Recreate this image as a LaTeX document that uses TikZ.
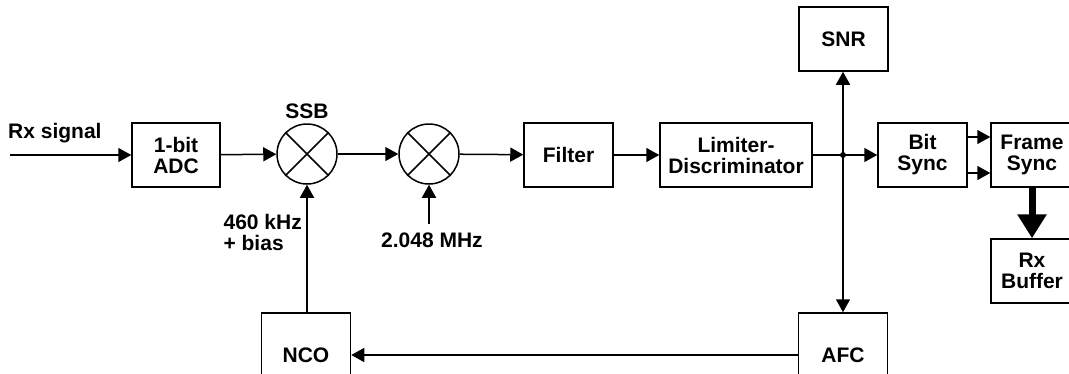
\documentclass[tikz,border=0pt]{standalone}
\usepackage{fontspec}
\setmainfont{Liberation Sans}
\usetikzlibrary{arrows.meta}
\tikzset{
  blk/.style={draw,line width=1.5pt,minimum width=89pt,minimum height=64pt,
    align=center,inner sep=0pt,font=\bfseries\fontsize{21}{21}\selectfont},
  mixer/.style={draw,circle,line width=1.5pt,minimum size=60pt,inner sep=0pt},
  lbl/.style={font=\bfseries\fontsize{21}{21}\selectfont,inner sep=0pt},
  sig/.style={line width=1.5pt,-{Triangle[length=13pt,width=14pt]}}
}
\begin{document}
\begin{tikzpicture}[x=1pt,y=-1pt]
    \clip (0,0) rectangle (1069,373);

    % blocs
    \node[blk,minimum width=88pt] (adc) at (176,155) {1-bit\\ADC};
    \node[mixer] (ssb) at (307,154) {};
    \node[mixer] (mix) at (429,154) {};
    \node[blk] (filt) at (568.5,155) {Filter};
    \node[blk,minimum width=152pt] (lim) at (736,155) {Limiter-\\Discriminator};
    \node[blk] (snr) at (843.5,39) {SNR};
    \node[blk] (bsync) at (922.5,155) {Bit\\Sync};
    \node[blk,minimum width=82pt] (fsync) at (1032,155) {Frame\\Sync};
    \node[blk,minimum width=82pt] (rxbuf) at (1032,271) {Rx\\Buffer};
    \node[blk,minimum height=84pt] (nco) at (306,355) {NCO};
    \node[blk,minimum height=84pt] (afc) at (843,355) {AFC};

    % creus dels mescladors
    \foreach \m in {ssb,mix} {
        \draw[line width=1.5pt] (\m.north west) -- (\m.south east);
        \draw[line width=1.5pt] (\m.south west) -- (\m.north east);
    }

    % etiquetes
    \coordinate (rxin) at (10,155);
    \node[lbl,anchor=south west] (rxlbl) at (8,143) {Rx signal};
    \node[lbl,anchor=south] (ssblbl) at (ssb.north) [yshift=4pt] {SSB};
    \node[lbl,align=left,anchor=east] (biaslbl) at (302,232) {460 kHz\\+ bias};
    \coordinate (lofreq) at (429,224);
    \node[lbl,anchor=north] (lolbl) at (432,233) {2.048 MHz};
    \coordinate (jn) at (843,155);

    % connexions
    \draw[sig] (rxin) -- (adc);
    \draw[sig] (adc) -- (ssb);
    \draw[sig] (ssb) -- (mix);
    \draw[sig] (mix) -- (filt);
    \draw[sig] (filt) -- (lim);
    \draw[sig] (lim) -- (bsync);
    \draw[sig] (nco.north -| ssb) -- (ssb);
    \draw[sig] (lofreq) -- (mix);
    \draw[sig] (jn) -- (snr.south -| jn);
    \draw[sig] (jn) -- (afc.north -| jn);
    \fill (jn) circle (3pt);
    \draw[sig] ([yshift=18pt]bsync.east) -- ([yshift=18pt]fsync.west);
    \draw[sig] ([yshift=-18pt]bsync.east) -- ([yshift=-18pt]fsync.west);
    \draw[line width=7pt,-{Triangle[length=24pt,width=28pt]}] (fsync) -- (rxbuf);
    \draw[sig] (afc) -- (nco);
\end{tikzpicture}
\end{document}
